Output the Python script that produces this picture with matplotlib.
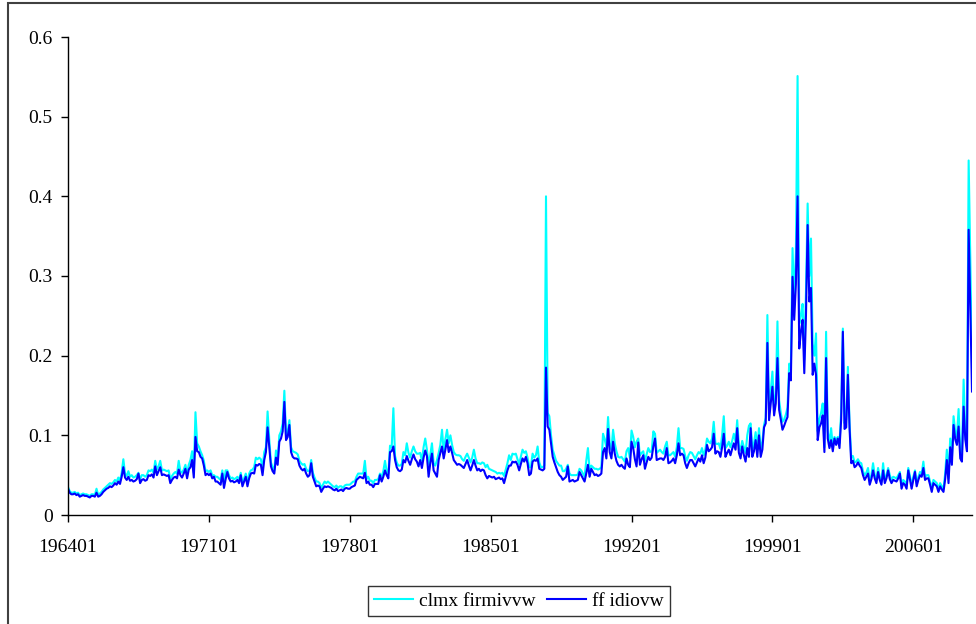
import numpy as np
import matplotlib
matplotlib.use("Agg")
import matplotlib.pyplot as plt
from matplotlib.patches import Rectangle

plt.rcParams['font.family'] = ['Liberation Serif', 'DejaVu Serif']

# monthly series 196401 .. 200812, one row per year
clmx_firmivvw = [
    0.035, 0.030, 0.028, 0.028, 0.029, 0.027, 0.028, 0.025, 0.026, 0.027, 0.026, 0.026,  # 1964
    0.025, 0.024, 0.026, 0.026, 0.025, 0.033, 0.025, 0.027, 0.029, 0.032, 0.034, 0.036,  # 1965
    0.038, 0.040, 0.039, 0.041, 0.044, 0.042, 0.047, 0.043, 0.053, 0.070, 0.052, 0.049,  # 1966
    0.055, 0.048, 0.050, 0.047, 0.048, 0.050, 0.053, 0.045, 0.050, 0.050, 0.048, 0.050,  # 1967
    0.056, 0.055, 0.057, 0.053, 0.068, 0.057, 0.061, 0.068, 0.056, 0.057, 0.056, 0.055,  # 1968
    0.056, 0.045, 0.049, 0.052, 0.054, 0.052, 0.068, 0.055, 0.053, 0.057, 0.063, 0.052,  # 1969
    0.063, 0.069, 0.080, 0.053, 0.129, 0.090, 0.086, 0.080, 0.075, 0.068, 0.055, 0.056,  # 1970
    0.054, 0.056, 0.050, 0.050, 0.048, 0.048, 0.046, 0.044, 0.056, 0.040, 0.056, 0.056,  # 1971
    0.050, 0.046, 0.047, 0.045, 0.046, 0.048, 0.044, 0.053, 0.040, 0.046, 0.052, 0.040,  # 1972
    0.052, 0.056, 0.057, 0.060, 0.072, 0.070, 0.072, 0.070, 0.058, 0.079, 0.085, 0.130,  # 1973
    0.095, 0.066, 0.060, 0.056, 0.081, 0.070, 0.100, 0.105, 0.115, 0.156, 0.100, 0.105,  # 1974
    0.119, 0.085, 0.080, 0.079, 0.078, 0.076, 0.068, 0.065, 0.063, 0.064, 0.058, 0.055,  # 1975
    0.056, 0.069, 0.053, 0.047, 0.042, 0.042, 0.040, 0.034, 0.038, 0.042, 0.040, 0.042,  # 1976
    0.040, 0.038, 0.036, 0.035, 0.037, 0.034, 0.036, 0.036, 0.034, 0.037, 0.038, 0.038,  # 1977
    0.038, 0.040, 0.042, 0.042, 0.048, 0.052, 0.052, 0.052, 0.052, 0.068, 0.045, 0.048,  # 1978
    0.043, 0.043, 0.040, 0.044, 0.044, 0.045, 0.052, 0.048, 0.055, 0.068, 0.055, 0.052,  # 1979
    0.087, 0.085, 0.134, 0.074, 0.066, 0.062, 0.062, 0.064, 0.079, 0.075, 0.090, 0.078,  # 1980
    0.072, 0.080, 0.086, 0.080, 0.077, 0.077, 0.078, 0.068, 0.085, 0.096, 0.082, 0.063,  # 1981
    0.075, 0.090, 0.065, 0.062, 0.069, 0.078, 0.088, 0.107, 0.080, 0.095, 0.107, 0.090,  # 1982
    0.100, 0.088, 0.079, 0.076, 0.075, 0.075, 0.074, 0.070, 0.068, 0.073, 0.077, 0.072,  # 1983
    0.066, 0.072, 0.082, 0.071, 0.065, 0.065, 0.064, 0.066, 0.065, 0.060, 0.063, 0.058,  # 1984
    0.057, 0.056, 0.055, 0.054, 0.052, 0.053, 0.052, 0.053, 0.049, 0.057, 0.065, 0.075,  # 1985
    0.069, 0.077, 0.076, 0.077, 0.070, 0.064, 0.073, 0.082, 0.078, 0.080, 0.072, 0.060,  # 1986
    0.060, 0.077, 0.072, 0.075, 0.086, 0.066, 0.060, 0.060, 0.062, 0.400, 0.128, 0.124,  # 1987
    0.100, 0.082, 0.075, 0.068, 0.065, 0.062, 0.062, 0.055, 0.055, 0.058, 0.063, 0.052,  # 1988
    0.050, 0.050, 0.050, 0.050, 0.051, 0.058, 0.056, 0.052, 0.048, 0.068, 0.084, 0.056,  # 1989
    0.062, 0.060, 0.058, 0.058, 0.057, 0.058, 0.060, 0.102, 0.095, 0.085, 0.123, 0.090,  # 1990
    0.082, 0.107, 0.090, 0.080, 0.073, 0.072, 0.073, 0.070, 0.067, 0.080, 0.084, 0.072,  # 1991
    0.106, 0.098, 0.085, 0.092, 0.096, 0.075, 0.078, 0.080, 0.068, 0.076, 0.084, 0.079,  # 1992
    0.080, 0.105, 0.102, 0.078, 0.080, 0.082, 0.079, 0.077, 0.086, 0.092, 0.075, 0.075,  # 1993
    0.077, 0.079, 0.073, 0.085, 0.109, 0.084, 0.084, 0.083, 0.074, 0.068, 0.075, 0.079,  # 1994
    0.078, 0.074, 0.070, 0.075, 0.079, 0.077, 0.084, 0.075, 0.082, 0.096, 0.092, 0.090,  # 1995
    0.096, 0.117, 0.090, 0.089, 0.090, 0.083, 0.100, 0.124, 0.084, 0.087, 0.092, 0.085,  # 1996
    0.093, 0.102, 0.092, 0.119, 0.088, 0.081, 0.093, 0.085, 0.078, 0.100, 0.112, 0.115,  # 1997
    0.083, 0.090, 0.104, 0.083, 0.109, 0.082, 0.092, 0.113, 0.122, 0.251, 0.128, 0.155,  # 1998
    0.180, 0.133, 0.152, 0.243, 0.144, 0.128, 0.117, 0.120, 0.126, 0.135, 0.190, 0.185,  # 1999
    0.335, 0.265, 0.330, 0.551, 0.240, 0.250, 0.265, 0.195, 0.280, 0.391, 0.300, 0.347,  # 2000
    0.215, 0.200, 0.228, 0.105, 0.120, 0.128, 0.140, 0.085, 0.230, 0.105, 0.090, 0.109,  # 2001
    0.086, 0.098, 0.095, 0.098, 0.090, 0.130, 0.234, 0.115, 0.120, 0.186, 0.115, 0.072,  # 2002
    0.074, 0.066, 0.067, 0.070, 0.066, 0.065, 0.055, 0.050, 0.053, 0.059, 0.043, 0.050,  # 2003
    0.065, 0.050, 0.045, 0.059, 0.048, 0.042, 0.065, 0.044, 0.050, 0.059, 0.050, 0.044,  # 2004
    0.048, 0.047, 0.046, 0.050, 0.054, 0.037, 0.044, 0.042, 0.037, 0.059, 0.049, 0.037,  # 2005
    0.048, 0.056, 0.040, 0.048, 0.054, 0.052, 0.067, 0.048, 0.050, 0.050, 0.042, 0.033,  # 2006
    0.044, 0.042, 0.040, 0.033, 0.040, 0.036, 0.033, 0.052, 0.082, 0.046, 0.096, 0.070,  # 2007
    0.124, 0.105, 0.098, 0.133, 0.080, 0.074, 0.170, 0.105, 0.088, 0.445, 0.320, 0.186,  # 2008
]

ff_idiovw = [
    0.033, 0.028, 0.026, 0.026, 0.027, 0.025, 0.026, 0.023, 0.024, 0.025, 0.024, 0.024,  # 1964
    0.023, 0.022, 0.024, 0.024, 0.023, 0.028, 0.023, 0.024, 0.026, 0.029, 0.031, 0.033,  # 1965
    0.034, 0.036, 0.035, 0.037, 0.040, 0.038, 0.042, 0.039, 0.048, 0.060, 0.047, 0.044,  # 1966
    0.048, 0.043, 0.044, 0.042, 0.043, 0.045, 0.052, 0.040, 0.044, 0.045, 0.043, 0.044,  # 1967
    0.050, 0.049, 0.051, 0.047, 0.061, 0.050, 0.055, 0.060, 0.050, 0.051, 0.050, 0.049,  # 1968
    0.050, 0.040, 0.044, 0.047, 0.048, 0.046, 0.057, 0.050, 0.047, 0.052, 0.058, 0.046,  # 1969
    0.057, 0.060, 0.069, 0.047, 0.098, 0.080, 0.079, 0.073, 0.071, 0.062, 0.050, 0.052,  # 1970
    0.050, 0.052, 0.046, 0.048, 0.042, 0.042, 0.040, 0.038, 0.052, 0.034, 0.045, 0.054,  # 1971
    0.046, 0.042, 0.043, 0.041, 0.042, 0.044, 0.040, 0.050, 0.036, 0.042, 0.048, 0.036,  # 1972
    0.046, 0.052, 0.053, 0.052, 0.063, 0.062, 0.064, 0.063, 0.050, 0.069, 0.079, 0.110,  # 1973
    0.085, 0.061, 0.055, 0.052, 0.072, 0.063, 0.092, 0.096, 0.105, 0.142, 0.094, 0.098,  # 1974
    0.113, 0.079, 0.073, 0.071, 0.071, 0.070, 0.062, 0.058, 0.056, 0.058, 0.052, 0.048,  # 1975
    0.050, 0.065, 0.048, 0.042, 0.036, 0.037, 0.036, 0.029, 0.033, 0.036, 0.035, 0.036,  # 1976
    0.035, 0.034, 0.032, 0.031, 0.033, 0.030, 0.031, 0.032, 0.030, 0.033, 0.034, 0.033,  # 1977
    0.033, 0.035, 0.036, 0.037, 0.044, 0.046, 0.048, 0.047, 0.046, 0.053, 0.040, 0.042,  # 1978
    0.038, 0.038, 0.035, 0.039, 0.039, 0.039, 0.050, 0.042, 0.048, 0.056, 0.050, 0.046,  # 1979
    0.079, 0.080, 0.086, 0.069, 0.060, 0.056, 0.055, 0.057, 0.069, 0.066, 0.074, 0.068,  # 1980
    0.063, 0.070, 0.076, 0.070, 0.067, 0.061, 0.069, 0.059, 0.072, 0.081, 0.074, 0.048,  # 1981
    0.065, 0.077, 0.056, 0.052, 0.048, 0.069, 0.078, 0.086, 0.071, 0.082, 0.094, 0.079,  # 1982
    0.086, 0.078, 0.069, 0.066, 0.063, 0.064, 0.063, 0.061, 0.059, 0.064, 0.069, 0.062,  # 1983
    0.056, 0.062, 0.069, 0.062, 0.056, 0.058, 0.055, 0.057, 0.056, 0.050, 0.046, 0.049,  # 1984
    0.048, 0.047, 0.048, 0.045, 0.046, 0.047, 0.045, 0.046, 0.040, 0.048, 0.056, 0.062,  # 1985
    0.062, 0.067, 0.066, 0.067, 0.063, 0.056, 0.064, 0.071, 0.067, 0.073, 0.065, 0.050,  # 1986
    0.052, 0.067, 0.069, 0.068, 0.071, 0.058, 0.057, 0.056, 0.058, 0.185, 0.111, 0.107,  # 1987
    0.090, 0.073, 0.066, 0.060, 0.054, 0.050, 0.048, 0.044, 0.046, 0.048, 0.061, 0.042,  # 1988
    0.043, 0.044, 0.042, 0.043, 0.044, 0.054, 0.050, 0.046, 0.042, 0.052, 0.063, 0.048,  # 1989
    0.058, 0.054, 0.050, 0.051, 0.049, 0.050, 0.052, 0.079, 0.084, 0.071, 0.108, 0.079,  # 1990
    0.071, 0.092, 0.077, 0.068, 0.063, 0.061, 0.063, 0.060, 0.058, 0.071, 0.063, 0.060,  # 1991
    0.092, 0.084, 0.070, 0.061, 0.091, 0.063, 0.070, 0.075, 0.058, 0.066, 0.073, 0.069,  # 1992
    0.072, 0.086, 0.096, 0.069, 0.070, 0.071, 0.071, 0.069, 0.073, 0.084, 0.065, 0.066,  # 1993
    0.068, 0.071, 0.065, 0.075, 0.090, 0.075, 0.077, 0.075, 0.065, 0.059, 0.065, 0.069,  # 1994
    0.069, 0.065, 0.061, 0.066, 0.071, 0.067, 0.075, 0.065, 0.072, 0.088, 0.080, 0.082,  # 1995
    0.085, 0.102, 0.077, 0.080, 0.079, 0.073, 0.085, 0.102, 0.073, 0.078, 0.082, 0.075,  # 1996
    0.083, 0.090, 0.082, 0.109, 0.078, 0.071, 0.086, 0.075, 0.067, 0.084, 0.073, 0.109,  # 1997
    0.073, 0.080, 0.094, 0.073, 0.100, 0.073, 0.082, 0.110, 0.115, 0.216, 0.119, 0.140,  # 1998
    0.161, 0.125, 0.140, 0.197, 0.132, 0.120, 0.107, 0.112, 0.118, 0.123, 0.178, 0.169,  # 1999
    0.299, 0.245, 0.290, 0.400, 0.209, 0.230, 0.245, 0.178, 0.250, 0.364, 0.268, 0.285,  # 2000
    0.176, 0.190, 0.176, 0.094, 0.110, 0.115, 0.125, 0.079, 0.197, 0.096, 0.084, 0.094,  # 2001
    0.080, 0.096, 0.088, 0.096, 0.084, 0.120, 0.230, 0.108, 0.110, 0.176, 0.108, 0.065,  # 2002
    0.068, 0.060, 0.062, 0.066, 0.062, 0.059, 0.050, 0.044, 0.048, 0.052, 0.038, 0.045,  # 2003
    0.056, 0.046, 0.040, 0.054, 0.044, 0.038, 0.056, 0.040, 0.046, 0.056, 0.045, 0.040,  # 2004
    0.044, 0.043, 0.042, 0.046, 0.052, 0.033, 0.040, 0.038, 0.033, 0.056, 0.045, 0.033,  # 2005
    0.044, 0.054, 0.036, 0.044, 0.050, 0.048, 0.059, 0.044, 0.046, 0.046, 0.038, 0.029,  # 2006
    0.040, 0.038, 0.036, 0.029, 0.036, 0.032, 0.029, 0.045, 0.069, 0.040, 0.085, 0.063,  # 2007
    0.113, 0.095, 0.088, 0.111, 0.071, 0.067, 0.136, 0.095, 0.080, 0.358, 0.260, 0.155,  # 2008
]

tick_labels = ['196401', '197101', '197801', '198501', '199201', '199901', '200601']
tick_step = 84  # months between labels

x = np.arange(len(ff_idiovw))

fig = plt.figure(figsize=(9.76, 6.24), dpi=100)
ax = fig.add_axes([68 / 976, 109 / 624, 904 / 976, 478 / 624])

ax.plot(x, clmx_firmivvw, color='#00FFFF', lw=1.5, label='clmx firmivvw')
ax.plot(x, ff_idiovw, color='#0000FF', lw=1.5, label='ff idiovw')

ax.set_xlim(0, len(x) - 1)
ax.set_ylim(0, 0.6)
ax.set_yticks(np.arange(0, 0.61, 0.1))
ax.set_yticklabels(['0', '0.1', '0.2', '0.3', '0.4', '0.5', '0.6'])
ax.set_xticks(np.arange(len(tick_labels)) * tick_step)
ax.set_xticklabels(tick_labels)

for s in ['top', 'right']:
    ax.spines[s].set_visible(False)
for s in ['left', 'bottom']:
    ax.spines[s].set_color('black')
    ax.spines[s].set_linewidth(1.0)
ax.tick_params(axis='both', direction='out', length=5, width=1,
               labelsize=14, colors='black')
ax.tick_params(axis='y', pad=6)
ax.tick_params(axis='x', pad=12)

leg = fig.legend(loc='center', bbox_to_anchor=(519 / 976, 23 / 624), ncol=2,
                 fontsize=14, frameon=True, fancybox=False, handlelength=2.0,
                 handletextpad=0.3, columnspacing=0.6, borderpad=0.3)
leg.get_frame().set_edgecolor('black')
leg.get_frame().set_linewidth(1.0)

# outer chart border (top and left edges visible)
fig.patches.append(Rectangle((8 / 976, -0.05), 1.0, 1.05 - 3 / 624, transform=fig.transFigure,
                             fill=False, edgecolor='#404040', linewidth=1.5))

fig.savefig('out.png', dpi=100)
